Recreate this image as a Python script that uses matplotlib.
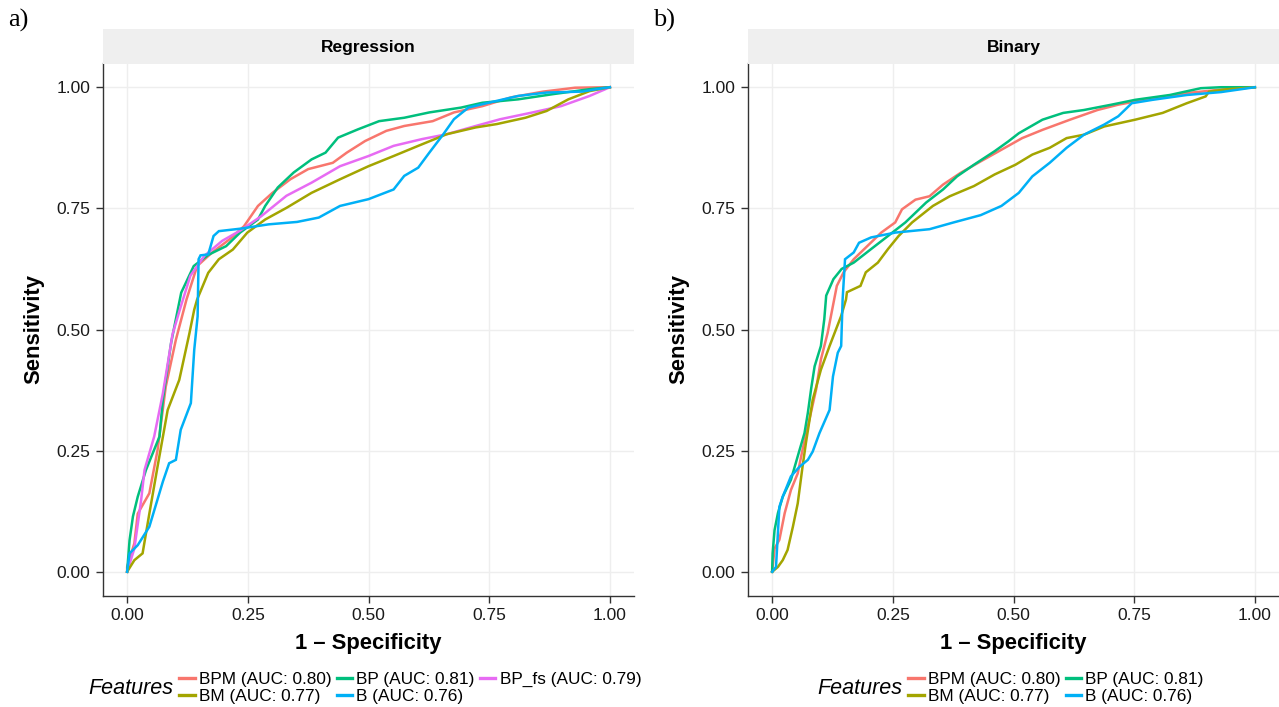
import matplotlib
matplotlib.use("Agg")
import matplotlib.pyplot as plt
from matplotlib.lines import Line2D

plt.rcParams['font.family'] = ['Liberation Sans', 'DejaVu Sans']

# ---------------- data ----------------
panel_titles = ["Regression", "Binary"]
panel_tags = ["a)", "b)"]

series_colors = {"BPM": "#F8766D", "BM": "#A3A500", "BP": "#00BF7D",
                 "B": "#00B0F6", "BP_fs": "#E76BF3"}

reg_labels = {"BPM": "BPM (AUC: 0.80)", "BM": "BM (AUC: 0.77)", "BP": "BP (AUC: 0.81)",
              "B": "B (AUC: 0.76)", "BP_fs": "BP_fs (AUC: 0.79)"}
bin_labels = {"BPM": "BPM (AUC: 0.80)", "BM": "BM (AUC: 0.77)", "BP": "BP (AUC: 0.81)",
              "B": "B (AUC: 0.76)"}

# Regression panel (1 - specificity, sensitivity)
reg_BPM_x = [0, 0.0, 0.015, 0.022, 0.046, 0.063, 0.080, 0.101, 0.123, 0.145, 0.175, 0.212, 0.242,
             0.271, 0.301, 0.338, 0.375, 0.426, 0.455, 0.493, 0.537, 0.574, 0.633, 0.677,
             0.736, 0.795, 0.862, 0.928, 1.0]
reg_BPM_y = [0, 0.01, 0.059, 0.12, 0.162, 0.251, 0.382, 0.479, 0.562, 0.631, 0.658, 0.686, 0.713,
             0.755, 0.782, 0.810, 0.831, 0.844, 0.865, 0.889, 0.910, 0.920, 0.930, 0.948,
             0.961, 0.979, 0.991, 0.999, 1.0]

reg_BP_x = [0, 0.005, 0.012, 0.022, 0.039, 0.067, 0.074, 0.091, 0.112, 0.138, 0.168, 0.205, 0.234,
            0.271, 0.286, 0.312, 0.345, 0.382, 0.411, 0.437, 0.478, 0.522, 0.574, 0.626,
            0.692, 0.736, 0.810, 0.884, 0.958, 1.0]
reg_BP_y = [0, 0.065, 0.114, 0.155, 0.21, 0.279, 0.355, 0.472, 0.576, 0.631, 0.654, 0.672, 0.70,
            0.727, 0.755, 0.793, 0.824, 0.851, 0.865, 0.896, 0.913, 0.930, 0.937, 0.948,
            0.958, 0.968, 0.975, 0.986, 0.996, 1.0]

reg_BPfs_x = [0, 0.015, 0.029, 0.036, 0.056, 0.074, 0.094, 0.111, 0.131, 0.160, 0.197, 0.234,
              0.278, 0.330, 0.382, 0.441, 0.500, 0.552, 0.611, 0.662, 0.722, 0.773, 0.840,
              0.899, 0.958, 1.0]
reg_BPfs_y = [0, 0.048, 0.148, 0.21, 0.279, 0.368, 0.49, 0.547, 0.611, 0.652, 0.683, 0.704,
              0.734, 0.776, 0.803, 0.837, 0.858, 0.879, 0.893, 0.903, 0.920, 0.934, 0.948,
              0.961, 0.982, 1.0]

reg_BM_x = [0, 0.015, 0.032, 0.046, 0.063, 0.084, 0.108, 0.129, 0.139, 0.145, 0.168, 0.190,
            0.219, 0.249, 0.286, 0.330, 0.382, 0.441, 0.500, 0.552, 0.603, 0.662, 0.722,
            0.766, 0.825, 0.869, 0.914, 0.958, 1.0]
reg_BM_y = [0, 0.024, 0.038, 0.12, 0.217, 0.334, 0.396, 0.492, 0.541, 0.562, 0.617, 0.645,
            0.665, 0.700, 0.727, 0.751, 0.782, 0.810, 0.837, 0.858, 0.879, 0.903, 0.917,
            0.924, 0.937, 0.951, 0.975, 0.992, 1.0]

reg_B_x = [0, 0.005, 0.022, 0.046, 0.074, 0.087, 0.101, 0.111, 0.132, 0.139, 0.146, 0.148,
           0.152, 0.168, 0.179, 0.190, 0.234, 0.293, 0.352, 0.397, 0.441, 0.500, 0.552,
           0.574, 0.603, 0.626, 0.655, 0.677, 0.707, 0.736, 0.810, 0.869, 0.943, 0.973, 1.0]
reg_B_y = [0, 0.038, 0.055, 0.093, 0.186, 0.224, 0.231, 0.293, 0.348, 0.458, 0.527, 0.645,
           0.653, 0.655, 0.693, 0.703, 0.708, 0.717, 0.722, 0.731, 0.755, 0.769, 0.789,
           0.817, 0.834, 0.865, 0.903, 0.934, 0.958, 0.965, 0.982, 0.989, 0.991, 0.996, 1.0]

# Binary panel
bin_BPM_x = [0, 0.005, 0.015, 0.026, 0.039, 0.053, 0.063, 0.074, 0.091, 0.101, 0.115, 0.134,
             0.148, 0.169, 0.198, 0.226, 0.255, 0.269, 0.297, 0.326, 0.354, 0.390, 0.432,
             0.475, 0.518, 0.560, 0.617, 0.674, 0.717, 0.788, 0.859, 0.930, 1.0]
bin_BPM_y = [0, 0.048, 0.066, 0.121, 0.169, 0.203, 0.252, 0.30, 0.376, 0.438, 0.493, 0.590,
             0.618, 0.645, 0.673, 0.700, 0.721, 0.748, 0.768, 0.775, 0.799, 0.823, 0.847,
             0.871, 0.895, 0.912, 0.933, 0.953, 0.964, 0.977, 0.988, 0.995, 1.0]

bin_BP_x = [0, 0.001, 0.005, 0.012, 0.022, 0.039, 0.057, 0.067, 0.074, 0.081, 0.088, 0.101,
            0.108, 0.112, 0.127, 0.144, 0.169, 0.205, 0.240, 0.276, 0.319, 0.354, 0.383,
            0.418, 0.461, 0.489, 0.511, 0.560, 0.603, 0.646, 0.703, 0.752, 0.824, 0.888,
            0.930, 1.0]
bin_BP_y = [0, 0.038, 0.086, 0.121, 0.155, 0.190, 0.252, 0.286, 0.328, 0.379, 0.424, 0.466,
            0.521, 0.570, 0.604, 0.625, 0.638, 0.666, 0.693, 0.721, 0.762, 0.789, 0.816,
            0.840, 0.868, 0.888, 0.905, 0.933, 0.947, 0.953, 0.964, 0.974, 0.984, 0.998,
            1.0, 1.0]

bin_BM_x = [0, 0.012, 0.022, 0.032, 0.043, 0.053, 0.063, 0.070, 0.084, 0.101, 0.119, 0.143,
            0.153, 0.155, 0.183, 0.194, 0.219, 0.240, 0.262, 0.290, 0.333, 0.368, 0.418,
            0.461, 0.504, 0.539, 0.575, 0.610, 0.646, 0.688, 0.752, 0.809, 0.859, 0.898,
            0.905, 0.945, 1.0]
bin_BM_y = [0, 0.010, 0.024, 0.045, 0.093, 0.141, 0.217, 0.266, 0.355, 0.417, 0.466, 0.528,
            0.562, 0.577, 0.590, 0.618, 0.638, 0.666, 0.693, 0.721, 0.755, 0.775, 0.796,
            0.820, 0.840, 0.861, 0.875, 0.895, 0.902, 0.919, 0.933, 0.947, 0.967, 0.981,
            0.991, 0.996, 1.0]

bin_B_x = [0, 0.008, 0.015, 0.022, 0.039, 0.057, 0.074, 0.084, 0.098, 0.119, 0.126, 0.136,
           0.143, 0.146, 0.151, 0.169, 0.180, 0.205, 0.255, 0.326, 0.376, 0.432, 0.475,
           0.511, 0.539, 0.575, 0.610, 0.646, 0.688, 0.717, 0.745, 0.788, 0.859, 0.930, 1.0]
bin_B_y = [0, 0.010, 0.134, 0.155, 0.197, 0.217, 0.231, 0.248, 0.286, 0.334, 0.403, 0.452,
           0.466, 0.562, 0.645, 0.659, 0.679, 0.690, 0.700, 0.707, 0.721, 0.736, 0.755,
           0.782, 0.816, 0.844, 0.875, 0.902, 0.923, 0.940, 0.967, 0.974, 0.984, 0.990, 1.0]

reg_series = [("BPM", reg_BPM_x, reg_BPM_y), ("BP", reg_BP_x, reg_BP_y),
              ("BP_fs", reg_BPfs_x, reg_BPfs_y), ("BM", reg_BM_x, reg_BM_y),
              ("B", reg_B_x, reg_B_y)]
bin_series = [("BPM", bin_BPM_x, bin_BPM_y), ("BP", bin_BP_x, bin_BP_y),
              ("BM", bin_BM_x, bin_BM_y), ("B", bin_B_x, bin_B_y)]

reg_legend_order = ["BPM", "BM", "BP", "B", "BP_fs"]
bin_legend_order = ["BPM", "BM", "BP", "B"]

ticks = [0.0, 0.25, 0.5, 0.75, 1.0]
tick_labels = ["0.00", "0.25", "0.50", "0.75", "1.00"]

# ---------------- figure ----------------
W, H = 1279, 707
fig = plt.figure(figsize=(W / 100, H / 100), dpi=100)


def px(x0, y0, x1, y1):
    return [x0 / W, 1 - y1 / H, (x1 - x0) / W, (y1 - y0) / H]


panels = [
    dict(x0=103, tag_x=8, series=reg_series, labels=reg_labels, order=reg_legend_order,
         ncol=3, feat_x=88, leg_x=179),
    dict(x0=748, tag_x=653, series=bin_series, labels=bin_labels, order=bin_legend_order,
         ncol=2, feat_x=817, leg_x=908),
]

for p, title, tag in zip(panels, panel_titles, panel_tags):
    x0 = p["x0"]
    x1 = x0 + 531
    ax = fig.add_axes(px(x0, 63, x1, 596))
    for name, xs, ys in p["series"]:
        ax.plot(xs, ys, color=series_colors[name], lw=1.8, solid_joinstyle='miter',
                label=p["labels"][name], zorder=3)
    ax.set_xlim(-0.05, 1.05)
    ax.set_ylim(-0.05, 1.05)
    ax.set_xticks(ticks)
    ax.set_xticklabels(tick_labels)
    ax.set_yticks(ticks)
    ax.set_yticklabels(tick_labels)
    ax.grid(True, color="#EEEEEE", lw=1.0, zorder=0)
    ax.set_axisbelow(True)
    for s in ["top", "right"]:
        ax.spines[s].set_visible(False)
    for s in ["left", "bottom"]:
        ax.spines[s].set_color("#333333")
        ax.spines[s].set_linewidth(1.0)
    ax.tick_params(axis="both", length=5, width=1.0, color="#333333",
                   labelsize=12.5, labelcolor="#1a1a1a", pad=4)
    ax.set_xlabel("1 \u2013 Specificity", fontsize=15.8, fontweight="bold", labelpad=7)
    ax.set_ylabel("Sensitivity", fontsize=15.8, fontweight="bold", labelpad=9)

    # facet strip
    sax = fig.add_axes(px(x0, 29, x1, 64))
    sax.set_facecolor("#EFEFEF")
    for s in sax.spines.values():
        s.set_visible(False)
    sax.set_xticks([])
    sax.set_yticks([])
    sax.text(0.5, 0.47, title, ha="center", va="center", fontsize=12.5, fontweight="bold",
             transform=sax.transAxes)

    fig.text(p["tag_x"] / W, 1 - 20 / H, tag, fontsize=19, family="Liberation Serif",
             va="center", ha="left")

    # legend
    fig.text(p["feat_x"] / W, 1 - 689 / H, "Features", fontsize=15.5, style="italic",
             va="center", ha="left")
    handles = [Line2D([], [], color=series_colors[n], lw=2.4) for n in p["order"]]
    labels = [p["labels"][n] for n in p["order"]]
    fig.legend(handles, labels, ncol=p["ncol"], loc="center left",
               bbox_to_anchor=(p["leg_x"] / W, 1 - 688 / H), frameon=False,
               fontsize=12.4, handlelength=0.9, handletextpad=0.25, columnspacing=0.3,
               labelspacing=0.15, borderpad=0, borderaxespad=0)

fig.savefig("out.png", dpi=100)
